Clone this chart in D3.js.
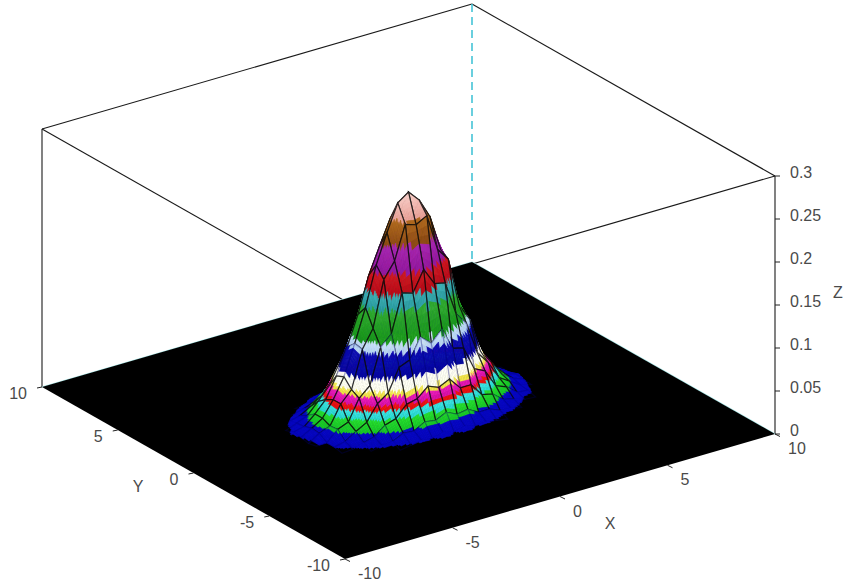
<!DOCTYPE html>
<html>
<head>
<meta charset="utf-8">
<script src="https://cdn.jsdelivr.net/npm/d3@7/dist/d3.min.js"></script>
<style>
html,body{margin:0;padding:0;background:#fff;}
svg{display:block;}
text{font-family:"Liberation Sans",Arial,sans-serif;font-size:16px;fill:#4a4a4a;}
</style>
</head>
<body>
<svg id="chart" width="847" height="584"></svg>
<script>
// ---- data ----
const xTicks = [-10, -5, 0, 5, 10];
const yTicks = [-10, -5, 0, 5, 10];
const zTicks = [0, 0.05, 0.1, 0.15, 0.2, 0.25, 0.3];
const zTickLabels = ["0", "0.05", "0.1", "0.15", "0.2", "0.25", "0.3"];
const meshX = [-5.5,-5,-4.5,-4,-3.5,-3,-2.5,-2,-1.5,-1,-0.5,0,0.5,1,1.5,2,2.5,3,3.5,4,4.5,5,5.5];
const meshY = [-3.5,-3,-2.5,-2,-1.5,-1,-0.5,0,0.5,1,1.5,2,2.5,3,3.5];
const meshZ = [
 [0,0,0,0,0,0,.001,.001,.001,.002,.002,.002,.002,.002,.001,.001,.001,0,0,0,0,0,0],
 [0,0,0,0,.001,.002,.002,.004,.006,.005,.008,.005,.008,.005,.006,.004,.002,.002,.001,0,0,0,0],
 [0,0,.001,.002,.003,.006,.007,.013,.012,.019,.017,.023,.017,.019,.012,.012,.007,.006,.003,.002,.001,0,0],
 [0,.001,.003,.004,.008,.011,.021,.025,.038,.041,.052,.047,.053,.039,.039,.024,.021,.011,.008,.004,.003,.001,0],
 [0,.002,.005,.008,.016,.023,.041,.050,.076,.081,.104,.093,.106,.080,.077,.049,.043,.022,.017,.007,.006,.002,.001],
 [.001,.005,.005,.017,.022,.046,.057,.098,.110,.154,.150,.174,.154,.151,.112,.096,.059,.044,.023,.015,.007,.004,.001],
 [.002,.003,.011,.016,.038,.051,.094,.115,.168,.186,.225,.221,.228,.185,.170,.113,.093,.052,.036,.018,.010,.005,.001],
 [.002,.005,.012,.020,.038,.061,.096,.134,.180,.214,.245,.254,.241,.218,.176,.137,.093,.063,.036,.022,.010,.006,.002],
 [.002,.006,.009,.020,.033,.057,.087,.121,.163,.193,.222,.229,.218,.197,.159,.124,.085,.055,.035,.018,.011,.004,.002],
 [.001,.003,.008,.013,.026,.040,.064,.088,.121,.143,.164,.170,.160,.146,.117,.092,.062,.042,.024,.015,.006,.004,.001],
 [.001,.002,.005,.008,.015,.024,.039,.053,.072,.086,.099,.103,.096,.088,.070,.055,.037,.026,.014,.009,.004,.002,0],
 [0,.001,.002,.004,.007,.012,.019,.027,.036,.042,.049,.051,.047,.044,.034,.028,.018,.013,.006,.005,.002,.001,0],
 [0,0,.001,.002,.003,.005,.008,.011,.014,.017,.019,.021,.019,.017,.014,.011,.008,.005,.003,.002,.001,0,0],
 [0,0,0,.001,.001,.002,.003,.004,.005,.006,.006,.007,.006,.006,.005,.003,.002,.001,.001,0,0,0,0],
 [0,0,0,0,0,0,.001,.001,.001,.002,.002,.002,.002,.002,.001,.001,.001,0,0,0,0,0,0]
];
const bandLevels = [.005,.014,.025,.033,.038,.046,.051,.064,.089,.10,.133,.15,.172,.20,.226];
const bandLow  = ["#000000","#0606c0","#18c828","#28d8d0","#e81010","#d810a8","#f0e040","#fffff0","#0606a0","#b0d0f0","#189818","#2898a0","#b80818","#9018a0","#8a4a10","#e8a098"];
const bandHigh = ["#000000","#0808c8","#28e030","#40e8e8","#f01818","#f020c0","#f8f060","#fffff8","#0a0ab0","#c8e0f8","#30a830","#40b0b8","#d01820","#a828b0","#b06a20","#fcdcd6"];
const bandDark = [true,true,false,false,false,false,false,false,true,false,false,false,false,false,false,false];

// ---- projection ----
const originX = 345, originY = 559;
const xToScreenX = d3.scaleLinear().domain([-10,10]).range([0,430]);
const xToScreenY = d3.scaleLinear().domain([-10,10]).range([0,-125]);
const yToScreenX = d3.scaleLinear().domain([-10,10]).range([0,-303]);
const yToScreenY = d3.scaleLinear().domain([-10,10]).range([0,-172]);
const zToScreenY = d3.scaleLinear().domain([0,0.3]).range([0,-258]);
const project = (x,y,z) => [
  originX + xToScreenX(x) + yToScreenX(y),
  originY + xToScreenY(x) + yToScreenY(y) + zToScreenY(z)
];
const bandIndex = d3.scaleThreshold().domain(bandLevels).range(d3.range(bandLevels.length+1));
const bandTop = i => i < bandLevels.length ? bandLevels[i] : 0.26;
const bandBottom = i => i > 0 ? bandLevels[i-1] : 0;
const colorOf = z => {
  const i = bandIndex(z);
  const t = Math.max(0,Math.min(1,(z-bandBottom(i))/(bandTop(i)-bandBottom(i))));
  return d3.interpolateRgb(bandLow[i],bandHigh[i])(t);
};

const svg = d3.select("#chart");
const line = d3.line();
const segment = (a,b,stroke,width,dash) => svg.append("path")
  .attr("d",line([a,b])).attr("fill","none").attr("stroke",stroke)
  .attr("stroke-width",width).attr("stroke-dasharray",dash||null);

// ---- box ----
const tl = project(-10,10,0.3), tb = project(10,10,0.3), tr = project(10,-10,0.3), tf = project(-10,-10,0.3);
const fl = project(-10,10,0), fb = project(10,10,0), fr = project(10,-10,0), ff = project(-10,-10,0);
[[tl,tb],[tb,tr],[tr,tf],[tf,tl],[tl,fl],[tr,fr]].forEach(e => segment(e[0],e[1],"#1a1a1a",1.1));
segment(tb,fb,"#45c4d6",1.6,"8,5");
segment(fl,fb,"#a8e8e8",1.2);
segment(fb,fr,"#a8e8e8",1.2);

// ---- floor ----
svg.append("path").attr("d",line([fl,fb,fr,ff])+"Z").attr("fill","#000");

// ---- surface, painted from back to front ----
const cells = [];
for (let j=0;j<meshY.length-1;j++) for (let i=0;i<meshX.length-1;i++) {
  cells.push({i,j,depth:project((meshX[i]+meshX[i+1])/2,(meshY[j]+meshY[j+1])/2,0)[1]});
}
cells.sort((a,b)=>d3.ascending(a.depth,b.depth));
const surface = svg.append("g");
const subdivisions = 7;
cells.forEach(c => {
  const {i,j} = c;
  const z00=meshZ[j][i], z10=meshZ[j][i+1], z01=meshZ[j+1][i], z11=meshZ[j+1][i+1];
  const zMean=(z00+z10+z01+z11)/4;
  if (Math.max(z00,z10,z01,z11) < bandLevels[0]) return;
  const at=(u,v)=>{
    const x=meshX[i]+u*(meshX[i+1]-meshX[i]), y=meshY[j]+v*(meshY[j+1]-meshY[j]);
    const z=(1-u)*(1-v)*z00+u*(1-v)*z10+(1-u)*v*z01+u*v*z11;
    return {p:project(x,y,z),z};
  };
  // order the pieces of a cell back to front as well
  for (let b=subdivisions-1;b>=0;b--) for (let a=subdivisions-1;a>=0;a--) {
    const u0=a/subdivisions,u1=(a+1)/subdivisions,v0=b/subdivisions,v1=(b+1)/subdivisions;
    const q=[at(u0,v0),at(u1,v0),at(u1,v1),at(u0,v1)];
    const zc=d3.mean(q,d=>d.z);
    if (zc<bandLevels[0]) continue;
    const col=colorOf(zc);
    surface.append("path").attr("d",line(q.map(d=>d.p))+"Z").attr("fill",col).attr("stroke",col).attr("stroke-width",0.6);
  }
  if (zMean < bandLevels[0]) return;
  const dark=bandDark[bandIndex(zMean)];
  const corners=[at(0,0).p,at(1,0).p,at(1,1).p,at(0,1).p];
  surface.append("path").attr("d",line(corners)+"Z").attr("fill","none")
    .attr("stroke",dark?"#000070":"#0a0a0a").attr("stroke-width",1.2).attr("stroke-opacity",dark?0.3:0.85);
});

// ---- axes ----
const tickLen = 5;
xTicks.forEach(v => {
  const p=project(v,-10,0);
  segment(p,[p[0]+tickLen,p[1]+2.5],"#222",1);
  svg.append("text").attr("x",p[0]+13).attr("y",p[1]+20).text(v);
});
yTicks.forEach(v => {
  const p=project(-10,v,0);
  segment(p,[p[0]-tickLen,p[1]+1],"#222",1);
  svg.append("text").attr("x",p[0]-15).attr("y",p[1]+12).attr("text-anchor","end").text(v);
});
zTicks.forEach((v,k) => {
  const p=project(10,-10,v);
  segment(p,[p[0]+5,p[1]],"#222",1);
  svg.append("text").attr("x",p[0]+15).attr("y",p[1]+2).text(zTickLabels[k]);
});
[["X",610,528.5],["Y",138,491.5],["Z",838,298]].forEach(a =>
  svg.append("text").attr("x",a[1]).attr("y",a[2]).attr("text-anchor","middle").attr("font-size",15).text(a[0]));
</script>
</body>
</html>
